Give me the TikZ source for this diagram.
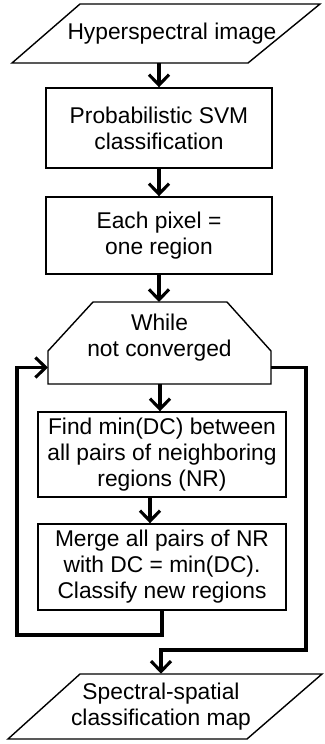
\documentclass[tikz,border=0pt]{standalone}
\usepackage{fontspec}
\setmainfont{Liberation Sans}
\usepackage{tikz}
\usetikzlibrary{arrows.meta, calc, positioning}

\tikzset{
    box/.style={draw, line width=1pt, align=center, inner sep=0pt},
    txt/.style={align=center, inner sep=0pt},
    flow/.style={line width=2.2pt, -{Straight Barb[length=0.26cm, width=0.5cm]}},
}

\begin{document}
                \begin{tikzpicture}[x=0.025cm, y=-0.025cm, font=\fontsize{16.2}{18.5}\selectfont]
                    \useasboundingbox (0, 0) rectangle (324, 744);

                    \node[txt, minimum height=1.475cm] (in) at (172, 33.5) {Hyperspectral image};
                    \node[box, minimum width=5.65cm, minimum height=2cm] (svm) at (159, 128) {Probabilistic SVM\\classification};
                    \node[box, minimum width=5.65cm, minimum height=1.925cm] (px) at (159, 235.5) {Each pixel =\\one region};
                    \node[txt] (wh) at (159.5, 338) {While\\not converged};
                    \node[box, minimum width=6.2cm, minimum height=2.125cm] (fm) at (162, 454.5) {Find min(DC) between\\all pairs of neighboring\\regions (NR)};
                    \node[box, minimum width=6.2cm, minimum height=2.15cm] (mg) at (162, 567) {Merge all pairs of NR\\with DC = min(DC).\\Classify new regions};
                    \node[txt, minimum height=1.625cm] (out) at (161, 706.5) {Spectral-spatial\\classification map};

                    \coordinate (wht) at (159, 302);
                    \coordinate (whb) at (160, 384);
                    \coordinate (whl) at (48, 367.5);
                    \coordinate (whr) at (271, 367.5);
                    \coordinate (lp) at (17, 635);
                    \coordinate (ex) at (306, 650);

                    % input/output shapes and loop head
                    \draw[line width=1pt]
                    (80, 4) -- (320, 4) -- (248, 63) -- (12, 63) -- cycle
                    (80, 674) -- (322, 674) -- (247, 739) -- (8, 739) -- cycle
                    (93, 302) -- (227, 302) -- (271, 351) -- (271, 384) -- (48, 384) -- (48, 351) -- cycle;

                    \draw[flow] (in.south -| svm.north) -- (svm.north);
                    \draw[flow] (svm) -- (px);
                    \draw[flow] (px) -- (wht);
                    \draw[flow] (whb) -- (whb |- fm.north);
                    \draw[flow] ($(fm.south) + (-12, 0)$) -- ($(mg.north) + (-12, 0)$);
                    \draw[flow] (mg.south) |- (lp) |- (whl);
                    \draw[flow] (whr) -| (ex) -| (out.north);
                \end{tikzpicture}
\end{document}
